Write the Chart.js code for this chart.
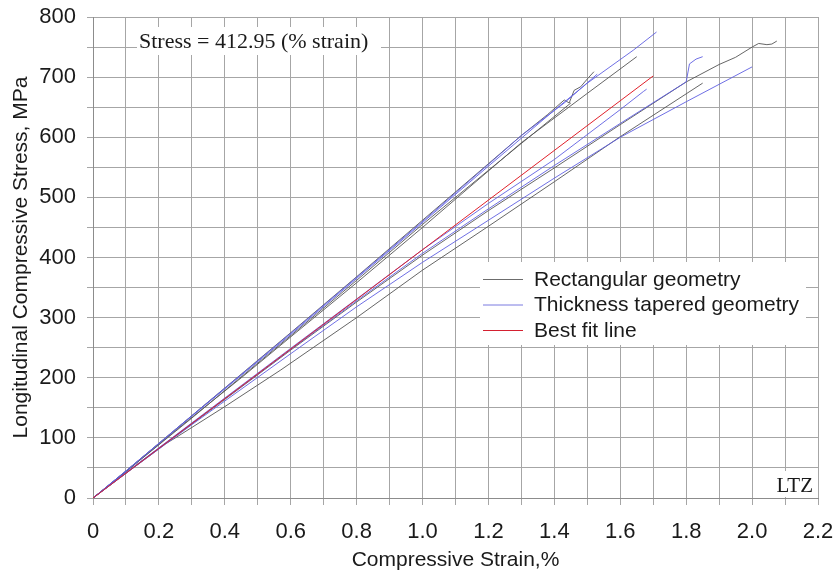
<!DOCTYPE html>
<html>
<head>
<meta charset="utf-8">
<script src="https://cdn.jsdelivr.net/npm/chart.js@4.4.0/dist/chart.umd.min.js"></script>
<style>
  html, body { margin: 0; padding: 0; background: #fff; }
  #wrap { width: 835px; height: 573px; }
</style>
</head>
<body>
<div id="wrap"><canvas id="myChart"></canvas></div>
<script>
// strain (%) / stress (MPa) pairs, one array per specimen
const bestFit = [[0, 0], [1.7, 702]]

const rectB = [[0, 0], [0.1, 44], [0.25, 112], [0.45, 200], [0.6, 268], [0.8, 358], [1.0, 450], [1.3, 591], [1.5, 673], [1.65, 734]]
const rectC = [[0, 0], [0.1, 45], [0.25, 114], [0.45, 206], [0.6, 275], [0.8, 368], [1.0, 462], [1.2, 556], [1.3, 603], [1.38, 638], [1.43, 662], [1.445, 657], [1.46, 678], [1.48, 684], [1.5, 697], [1.505, 700], [1.52, 709]]
const rectE = [[0, 0], [0.1, 44], [0.3, 133], [0.6, 270], [0.8, 362], [1.0, 455], [1.2, 545], [1.45, 657]]
const rectH = [[0, 0], [0.1, 42], [0.3, 123], [0.6, 246], [0.8, 326], [1.0, 404], [1.2, 478], [1.4, 549], [1.6, 621], [1.8, 692], [1.9, 721], [1.95, 733], [2.0, 750], [2.02, 756], [2.045, 754], [2.06, 755], [2.075, 760]]
const rectI = [[0, 0], [0.1, 41], [0.22, 90], [0.25, 100], [0.4, 152], [0.57, 213], [0.8, 300], [1.0, 379], [1.2, 452], [1.4, 526], [1.6, 601], [1.85, 690]]

const tapA = [[0, 0], [0.1, 45], [0.3, 136], [0.6, 272], [0.8, 365], [1.0, 458], [1.2, 552], [1.4, 645], [1.5, 690], [1.64, 745], [1.71, 775]]
const tapD = [[0, 0], [0.1, 45], [0.3, 137], [0.6, 274], [0.8, 367], [1.0, 460], [1.2, 555], [1.3, 603], [1.43, 657], [1.53, 705]]
const tapF = [[0, 0], [0.1, 42], [0.3, 125], [0.6, 249], [0.8, 331], [1.0, 413], [1.2, 490], [1.4, 563], [1.6, 646], [1.67, 676], [1.68, 680]]
const tapG = [[0, 0], [0.1, 42], [0.3, 124], [0.6, 247], [0.8, 328], [1.0, 407], [1.2, 481], [1.4, 553], [1.6, 623], [1.8, 692], [1.81, 722], [1.83, 730], [1.85, 734]]
const tapJ = [[0, 0], [0.1, 41], [0.3, 122], [0.6, 240], [0.8, 318], [1.0, 392], [1.2, 462], [1.4, 532], [1.6, 600], [1.8, 659], [2.0, 717]]

const rectCurves = [rectB, rectC, rectE, rectH, rectI]
const tapCurves = [tapA, tapD, tapF, tapG, tapJ]

const legendLabels = ['Rectangular geometry', 'Thickness tapered geometry', 'Best fit line']
const legendColors = ['#6c6c6c', '#7b7be0', '#d42030']

const SANS = "Arial, 'Liberation Sans', sans-serif"
const SERIF = "'Times New Roman', 'Liberation Serif', serif"

function toPoints(arr) {
  return arr.map(p => ({ x: p[0], y: p[1] }))
}

function lineSet(arr, color) {
  return {
    data: toPoints(arr),
    showLine: true,
    borderColor: color,
    borderWidth: 1,
    pointRadius: 0,
    pointHoverRadius: 0,
    tension: 0
  }
}

const datasets = [lineSet(bestFit, '#e0202a')]
tapCurves.forEach(c => datasets.push(lineSet(c, 'rgba(95,95,225,0.9)')))
rectCurves.forEach(c => datasets.push(lineSet(c, 'rgba(85,85,85,0.9)')))

// white boxes with the formula, the legend and the LTZ tag
const notesPlugin = {
  id: 'notes',
  afterDatasetsDraw(chart) {
    const ctx = chart.ctx
    ctx.save()
    ctx.fillStyle = '#fff'
    ctx.fillRect(137, 27, 244, 28)
    ctx.fillRect(480, 262, 326, 83)
    ctx.fillRect(770, 471, 47, 26)

    ctx.fillStyle = '#1a1a1a'
    ctx.textBaseline = 'middle'
    ctx.font = '22px ' + SERIF
    ctx.textAlign = 'left'
    ctx.fillText('Stress = 412.95 (% strain)', 139, 42)
    ctx.font = '21px ' + SERIF
    ctx.textAlign = 'right'
    ctx.fillText('LTZ', 813, 486)

    ctx.textAlign = 'left'
    ctx.font = '21px ' + SANS
    for (let i = 0; i < legendLabels.length; i++) {
      const y = 279 + i * 25.5
      ctx.strokeStyle = legendColors[i]
      ctx.lineWidth = 1
      ctx.beginPath()
      ctx.moveTo(483, y + 0.5)
      ctx.lineTo(523, y + 0.5)
      ctx.stroke()
      ctx.fillStyle = '#1a1a1a'
      ctx.fillText(legendLabels[i], 534, y + 1)
    }
    ctx.restore()
  }
}

const ctx = document.getElementById('myChart')
new Chart(ctx, {
  type: 'scatter',
  data: { datasets: datasets },
  plugins: [notesPlugin],
  options: {
    responsive: true,
    maintainAspectRatio: false,
    animation: false,
    layout: { padding: { left: 5, right: 17, top: 17, bottom: 0 } },
    plugins: {
      legend: { display: false },
      tooltip: { enabled: false }
    },
    scales: {
      x: {
        type: 'linear',
        min: 0,
        max: 2.2,
        ticks: {
          stepSize: 0.1,
          autoSkip: false,
          maxRotation: 0,
          padding: 14,
          color: '#1a1a1a',
          font: { size: 22, family: SANS },
          callback: v => Math.round(v * 10) % 2 === 0 ? (v === 0 ? '0' : v.toFixed(1)) : ''
        },
        grid: { color: '#a6a6a6', tickColor: '#a6a6a6', tickLength: 7 },
        border: { color: '#8c8c8c' },
        title: {
          display: true,
          text: 'Compressive Strain,%',
          color: '#1a1a1a',
          font: { size: 21, family: SANS },
          padding: { top: 2, bottom: 0 }
        },
        afterFit: s => {
          s.height = 75
          s.paddingLeft = 0
          s.paddingRight = 0
        }
      },
      y: {
        type: 'linear',
        min: 0,
        max: 800,
        ticks: {
          stepSize: 50,
          autoSkip: false,
          padding: 11,
          color: '#1a1a1a',
          font: { size: 22, family: SANS },
          callback: v => v % 100 === 0 ? v : ''
        },
        grid: { color: '#a6a6a6', tickColor: '#a6a6a6', tickLength: 6 },
        border: { color: '#8c8c8c' },
        title: {
          display: true,
          text: 'Longitudinal Compressive Stress, MPa',
          color: '#1a1a1a',
          font: { size: 21, family: SANS },
          padding: { top: 4, bottom: 0 }
        },
        afterFit: s => {
          s.width = 88
          s.paddingTop = 0
          s.paddingBottom = 0
        }
      }
    }
  }
})
</script>
</body>
</html>
